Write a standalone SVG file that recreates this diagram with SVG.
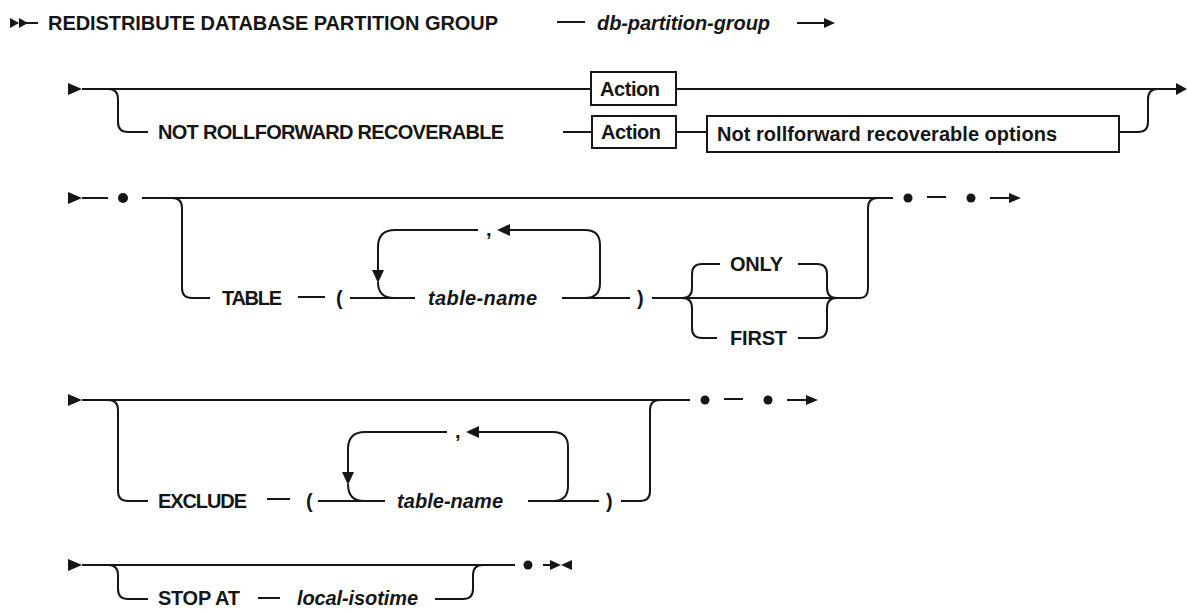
<svg xmlns="http://www.w3.org/2000/svg" width="1187" height="613" viewBox="0 0 1187 613">
<defs>
<style>
.t{font-family:"Liberation Sans",Arial,sans-serif;font-size:20px;font-weight:bold;fill:#161616}
.i{font-style:italic}
.l{fill:none;stroke:#161616;stroke-width:2}
.b{fill:#fff;stroke:#161616;stroke-width:2}
.h{fill:#161616;stroke:none}
</style>
</defs>
<rect width="1187" height="613" fill="#fff"/>
<g id="connectors">
<!-- row 0 -->
<path class="h" d="M10,18 L19,23 L10,28Z M19,18 L28,23 L19,28Z"/>
<path class="l" d="M26,23 L38,23"/>
<path class="l" d="M557,22 L585,22"/>
<path class="l" d="M797,23 L826,23"/>
<path class="h" d="M824,18 L835,23 L824,28Z"/>
<!-- row 1 -->
<path class="h" d="M68,83 L82,89 L68,95Z"/>
<path class="l" d="M82,89 L591,89 M676,89 L1177,89"/>
<path class="h" d="M1176,83 L1187,89 L1176,95Z"/>
<path class="l" d="M108,89 Q118,89 118,99 L118,122 Q118,132 128,132 L148,132"/>
<path class="l" d="M563,132 L592,132 M676,132 L707,132"/>
<path class="l" d="M1119,132 L1138,132 Q1148,132 1148,122 L1148,99 Q1148,89 1158,89"/>
<!-- row 2 -->
<path class="h" d="M68,192 L82,198 L68,204Z"/>
<path class="l" d="M82,198 L108,198 M142,198 L893,198"/>
<circle class="h" cx="123" cy="198" r="5"/>
<path class="l" d="M172,198 Q182,198 182,208 L182,288 Q182,298 192,298 L210,298"/>
<path class="l" d="M298,297 L325,297"/>
<path class="l" d="M350,298 L415,298"/>
<path class="l" d="M478,230 L395,230 Q378,230 378,247 L378,272"/>
<path class="h" d="M372,270 L384,270 L378,283Z"/>
<path class="l" d="M378,282 Q378,298 394,298"/>
<path class="h" d="M497,230 L510,224 L510,236Z"/>
<path class="l" d="M509,230 L585,230 Q600,230 600,245 L600,283 Q600,298 585,298"/>
<path class="l" d="M562,298 L630,298"/>
<path class="l" d="M652,298 L860,298 Q868,298 868,288 L868,208 Q868,198 878,198"/>
<path class="l" d="M682,298 Q692,298 692,288 L692,274 Q692,264 702,264 L720,264"/>
<path class="l" d="M682,298 Q692,298 692,308 L692,328 Q692,338 702,338 L717,338"/>
<path class="l" d="M798,264 L817,264 Q827,264 827,274 L827,288 Q827,298 837,298"/>
<path class="l" d="M798,338 L817,338 Q827,338 827,328 L827,308 Q827,298 837,298"/>
<circle class="h" cx="908" cy="198" r="4.5"/>
<path class="l" d="M927,197 L946,197"/>
<circle class="h" cx="971" cy="198" r="4.5"/>
<path class="l" d="M990,198 L1010,198"/>
<path class="h" d="M1009,193 L1021,198 L1009,203Z"/>
<!-- row 3 -->
<path class="h" d="M68,394 L82,400 L68,406Z"/>
<path class="l" d="M82,400 L690,400"/>
<path class="l" d="M108,400 Q118,400 118,410 L118,491 Q118,501 128,501 L148,501"/>
<path class="l" d="M267,499 L290,499"/>
<path class="l" d="M318,501 L385,501"/>
<path class="l" d="M447,432 L365,432 Q348,432 348,449 L348,472"/>
<path class="h" d="M342,472 L354,472 L348,485Z"/>
<path class="l" d="M348,484 Q348,501 364,501"/>
<path class="h" d="M466,432 L479,426 L479,438Z"/>
<path class="l" d="M478,432 L553,432 Q568,432 568,447 L568,486 Q568,501 553,501"/>
<path class="l" d="M528,501 L599,501"/>
<path class="l" d="M621,501 L640,501 Q650,501 650,491 L650,410 Q650,400 660,400"/>
<circle class="h" cx="705" cy="400" r="4.5"/>
<path class="l" d="M724,399 L743,399"/>
<circle class="h" cx="768" cy="400" r="4.5"/>
<path class="l" d="M787,400 L807,400"/>
<path class="h" d="M806,395 L818,400 L806,405Z"/>
<!-- row 4 -->
<path class="h" d="M68,559 L82,565 L68,571Z"/>
<path class="l" d="M82,565 L515,565"/>
<path class="l" d="M108,565 Q118,565 118,575 L118,589 Q118,599 128,599 L148,599"/>
<path class="l" d="M258,598 L280,598"/>
<path class="l" d="M435,599 L463,599 Q473,599 473,589 L473,575 Q473,565 483,565"/>
<circle class="h" cx="528" cy="565" r="4.5"/>
<path class="l" d="M543,565 L552,565"/>
<path class="h" d="M550,560 L561,565 L550,570Z M572,560 L561,565 L572,570Z"/>
</g>
<g id="redistribute"><text class="t" x="48" y="30" textLength="450">REDISTRIBUTE DATABASE PARTITION GROUP</text></g>
<g id="db-partition-group"><text class="t i" x="597" y="30" textLength="173">db-partition-group</text></g>
<g id="not-rollforward"><text class="t" x="158" y="139" textLength="346">NOT ROLLFORWARD RECOVERABLE</text></g>
<g id="action1"><rect class="b" x="591" y="72" width="85" height="33"/><text class="t" x="600" y="96" textLength="60">Action</text></g>
<g id="action2"><rect class="b" x="592" y="116" width="84" height="32"/><text class="t" x="601" y="139" textLength="60">Action</text></g>
<g id="nrr-options"><rect class="b" x="707" y="116" width="412" height="36"/><text class="t" x="717" y="141" textLength="340">Not rollforward recoverable options</text></g>
<g id="table"><text class="t" x="222" y="305" textLength="60">TABLE</text></g>
<g id="lparen1"><text class="t" x="336" y="305">(</text></g>
<g id="comma1"><text class="t" x="486" y="236">,</text></g>
<g id="table-name1"><text class="t i" x="428" y="305" textLength="109">table-name</text></g>
<g id="rparen1"><text class="t" x="637" y="305">)</text></g>
<g id="only"><text class="t" x="730" y="271" textLength="53">ONLY</text></g>
<g id="first"><text class="t" x="730" y="345" textLength="57">FIRST</text></g>
<g id="exclude"><text class="t" x="158" y="508" textLength="89">EXCLUDE</text></g>
<g id="lparen2"><text class="t" x="306" y="508">(</text></g>
<g id="comma2"><text class="t" x="455" y="438">,</text></g>
<g id="table-name2"><text class="t i" x="397" y="508" textLength="106">table-name</text></g>
<g id="rparen2"><text class="t" x="606" y="508">)</text></g>
<g id="stop-at"><text class="t" x="158" y="605" textLength="82">STOP AT</text></g>
<g id="local-isotime"><text class="t i" x="297" y="605" textLength="121">local-isotime</text></g>
</svg>
